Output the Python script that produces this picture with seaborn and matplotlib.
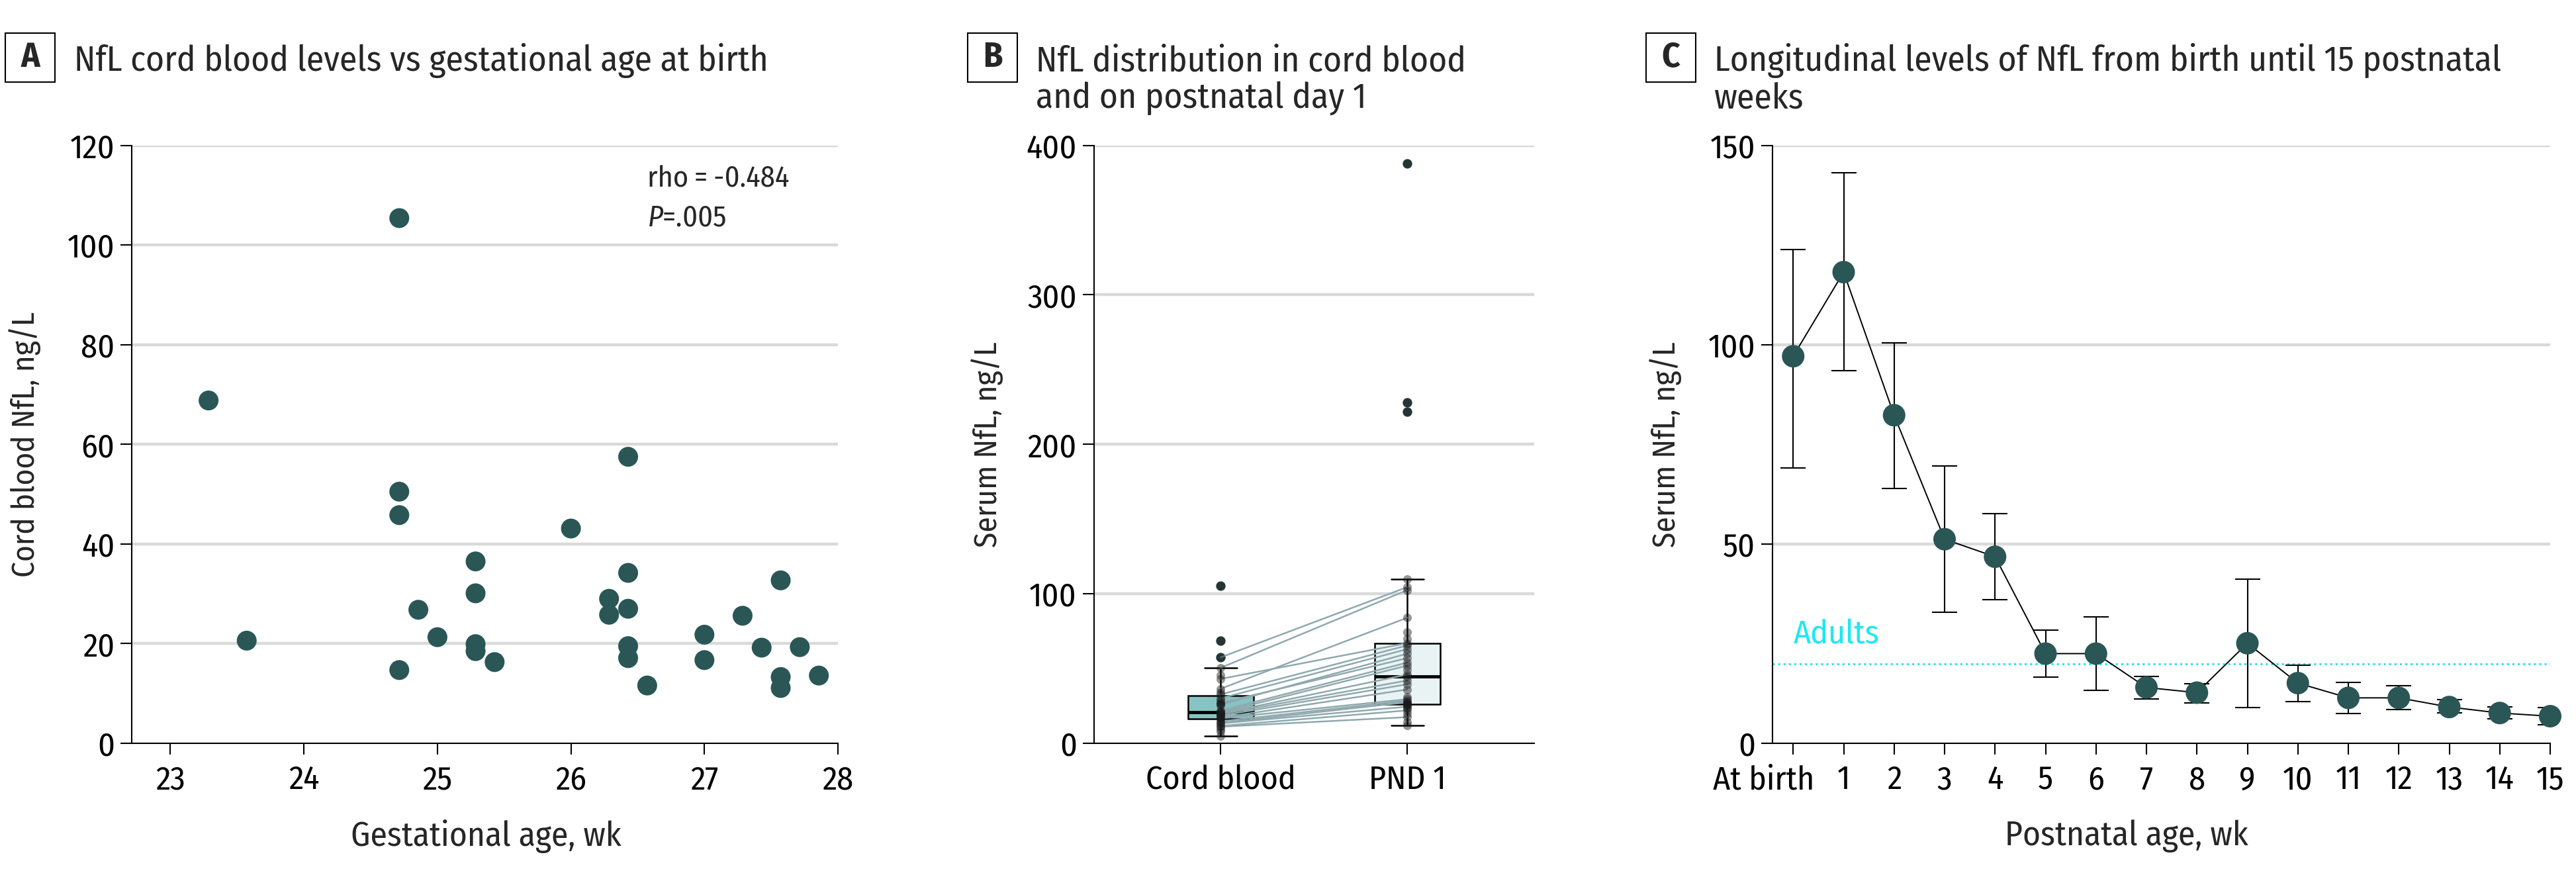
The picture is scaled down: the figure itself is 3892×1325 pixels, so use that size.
import matplotlib
matplotlib.use("Agg")
import matplotlib.pyplot as plt
from matplotlib.patches import Rectangle
from matplotlib.transforms import ScaledTranslation
import pandas as pd
import seaborn as sns

# A: cord blood NfL vs gestational age (weeks + days/7)
ga_weeks = [23 + 2/7, 24 + 5/7, 26 + 3/7, 23 + 4/7, 24 + 5/7, 24 + 5/7, 24 + 5/7,
            24 + 6/7, 25.0, 25 + 2/7, 25 + 2/7, 25 + 2/7, 25 + 2/7, 25 + 3/7,
            26.0, 26 + 2/7, 26 + 2/7, 26 + 3/7, 26 + 3/7, 26 + 3/7, 26 + 3/7,
            26 + 4/7, 27.0, 27.0, 27 + 2/7, 27 + 3/7, 27 + 4/7, 27 + 4/7, 27 + 4/7,
            27 + 5/7, 27 + 6/7]
cord_nfl = [68.8, 105.4, 57.5, 20.6, 50.5, 45.8, 14.7,
            26.8, 21.3, 36.5, 30.1, 19.9, 18.5, 16.3,
            43.1, 29.0, 25.8, 34.2, 27.0, 19.5, 17.1,
            11.6, 21.8, 16.7, 25.6, 19.2, 32.7, 13.3, 11.1,
            19.3, 13.6]
rho_text = "rho\u2009=\u2009-0.484"
p_text = "$P$=.005"

# B: cord blood vs postnatal day 1
cord_extra = [9.5, 8.0, 4.7]
pnd1_nfl = [11.8, 14, 17.5, 20, 22, 23.5, 24.5, 25.5, 26, 26.3,
            27, 27.5, 28.5, 29.5, 31, 36, 39.5, 42, 44.7,
            46, 49, 52, 54, 57, 60, 63, 65.5, 67,
            70, 74.5, 84, 102.5, 104.5, 109.7, 222, 228, 388]
pair_cord = [57.5, 50.5, 36.5, 43.1, 32.7, 30.1, 27.0, 25.8, 21.8, 20.6,
             19.9, 19.5, 18.5, 17.1, 16.7, 14.7, 13.6, 13.3, 11.6, 11.1]
pair_pnd1 = [104.5, 102.5, 84, 67, 65.5, 63, 57, 60, 54, 52,
             46, 42, 39.5, 36, 29.5, 28.5, 27.5, 24.5, 22, 17.5]
groups_b = ["Cord blood", "PND 1"]

# C: longitudinal levels
week_pos = [0, 1, 2, 3, 4, 5, 6, 7, 8, 9, 10, 11, 12, 13, 14, 15]
week_labels = ["At birth", "1", "2", "3", "4", "5", "6", "7", "8", "9",
               "10", "11", "12", "13", "14", "15"]
nfl_mean = [97.1, 118.2, 82.3, 51.2, 46.8, 22.5, 22.5, 14.0, 12.7, 25.1,
            15.1, 11.4, 11.4, 9.1, 7.6, 6.8]
nfl_low = [69.0, 93.4, 64.0, 32.9, 36.0, 16.6, 13.3, 11.1, 10.1, 9.0,
           10.4, 7.4, 8.4, 7.6, 6.1, 4.7]
nfl_high = [123.8, 143.1, 100.4, 69.5, 57.6, 28.4, 31.7, 16.8, 15.0, 41.1,
            19.6, 15.3, 14.5, 10.9, 9.1, 9.0]
adult_level = 20

W, H, DPI = 3892, 1325, 100
TEAL = "#2a5656"
GRID = "#d9d9d9"
CYAN = "#1ee8f2"
FONT = "Fira Sans Condensed"
FS = 36
YLAB = 34

sns.set_theme(style="ticks")
plt.rcParams['font.family'] = [FONT, 'DejaVu Sans']
plt.rcParams['mathtext.fontset'] = 'custom'
plt.rcParams['mathtext.it'] = FONT + ':italic'
plt.rcParams['mathtext.rm'] = FONT

fig = plt.figure(figsize=(W / DPI, H / DPI), dpi=DPI)
fig.patch.set_facecolor("white")


def px_axes(l, t, r, b):
    return fig.add_axes([l / W, 1 - b / H, (r - l) / W, (b - t) / H])


def style(ax, yticks):
    for s in ["top", "right"]:
        ax.spines[s].set_visible(False)
    for s in ["left", "bottom"]:
        ax.spines[s].set_linewidth(1.5)
        ax.spines[s].set_color("black")
    ax.tick_params(axis="both", direction="out", length=12, width=1.5,
                   color="black", labelsize=FS, labelcolor="black")
    ax.tick_params(axis="y", pad=6.5)
    ax.tick_params(axis="x", pad=11)
    ax.set_ylim(yticks[0], yticks[-1])
    ax.set_yticks(yticks)
    for v in yticks[1:]:
        ax.axhline(v, color=GRID, lw=3.2, zorder=0)
    ax.set_facecolor("white")


def panel_title(letter, lines, x_box, x_text):
    fig.patches.append(Rectangle((x_box / W, 1 - 124 / H), 75 / W, 74 / H,
                                 transform=fig.transFigure, fill=False,
                                 ec="black", lw=1.5))
    fig.text((x_box + 37.5) / W, 1 - 87 / H, letter, ha="center", va="center",
             fontsize=38, fontweight="bold")
    for i, line in enumerate(lines):
        fig.text(x_text / W, 1 - (107 + 56 * i) / H, line, ha="left",
                 va="baseline", fontsize=38.5)


# ---- Panel A ----
axA = px_axes(199, 219.6, 1266, 1123)
style(axA, [0, 20, 40, 60, 80, 100, 120])
sns.scatterplot(x=ga_weeks, y=cord_nfl, ax=axA, s=467, color=TEAL,
                edgecolor="none", zorder=3)
axA.set_xlim(22.71, 28)
axA.set_xticks([23, 24, 25, 26, 27, 28])
axA.text(26.57, 111.7, rho_text, fontsize=32, ha="left", va="baseline")
axA.text(26.57, 103.8, p_text, fontsize=32, ha="left", va="baseline")
axA.set_xlabel("Gestational age, wk", fontsize=37)
axA.set_ylabel("Cord blood NfL, ng/L", fontsize=YLAB)
axA.xaxis.set_label_coords(0.5014, -0.1273)
axA.yaxis.set_label_coords(-137 / 1067, 0.5)
panel_title("A", ["NfL cord blood levels vs gestational age at birth"], 8, 112)

# ---- Panel B ----
axB = px_axes(1652.6, 219.6, 2318, 1123)
style(axB, [0, 100, 200, 300, 400])
df_b = pd.DataFrame({
    "group": [groups_b[0]] * (len(cord_nfl) + len(cord_extra)) + [groups_b[1]] * len(pnd1_nfl),
    "value": cord_nfl + cord_extra + pnd1_nfl,
})
sns.boxplot(data=df_b, x="group", y="value", hue="group", order=groups_b,
            hue_order=groups_b, palette=["#86c4c3", "#e9f3f4"], saturation=1,
            width=0.35, linewidth=1.8, linecolor="black", fliersize=9.4,
            flierprops=dict(marker="o", markerfacecolor="#2f4b4b",
                            markeredgecolor="#2f4b4b"),
            medianprops=dict(linewidth=3.5), legend=False, ax=axB, zorder=2)
for c, p in zip(pair_cord, pair_pnd1):
    axB.plot([0, 1], [c, p], color="#8fa9ae", lw=1.8, zorder=3)
sns.stripplot(data=df_b, x="group", y="value", order=groups_b, jitter=False,
              color="#1a1a1a", alpha=0.45, size=9.4, ax=axB, zorder=4)
axB.set_xlim(-0.68, 1.68)
axB.set_ylim(0, 400)
axB.set_xlabel("")
axB.set_ylabel("Serum NfL, ng/L", fontsize=YLAB)
axB.yaxis.set_label_coords(-137 / 665.4, 0.5)
panel_title("B", ["NfL distribution in cord blood", "and on postnatal day 1"], 1462, 1565)

# ---- Panel C ----
axC = px_axes(2678, 219.6, 3853, 1123)
style(axC, [0, 50, 100, 150])
axC.axhline(adult_level, color=CYAN, ls=":", lw=2.2, zorder=1)
axC.text(0, 25, "Adults", color=CYAN, fontsize=FS, ha="left", va="baseline")
yerr = [[m - lo for m, lo in zip(nfl_mean, nfl_low)],
        [hi - m for m, hi in zip(nfl_mean, nfl_high)]]
axC.errorbar(week_pos, nfl_mean, yerr=yerr, fmt="none", ecolor="black",
             elinewidth=1.5, capsize=13.7, capthick=1.5, zorder=2)
sns.lineplot(x=week_pos, y=nfl_mean, color="black", lw=1.4, ax=axC, zorder=3)
sns.scatterplot(x=week_pos, y=nfl_mean, s=600, color=TEAL, edgecolor="none",
                ax=axC, zorder=4, clip_on=False)
axC.set_xlim(-0.41, 15)
axC.set_xticks(week_pos)
axC.set_xticklabels(week_labels)
# first label sits a little left of its tick in the original
first = axC.get_xticklabels()[0]
first.set_transform(first.get_transform() + ScaledTranslation(-0.45, 0, fig.dpi_scale_trans))
axC.set_ylim(0, 150)
axC.set_xlabel("Postnatal age, wk", fontsize=37)
axC.set_ylabel("Serum NfL, ng/L", fontsize=YLAB)
axC.xaxis.set_label_coords(0.455, -0.1273)
axC.yaxis.set_label_coords(-137 / 1175, 0.5)
panel_title("C", ["Longitudinal levels of NfL from birth until 15 postnatal", "weeks"], 2487, 2590)

fig.savefig("out.png", dpi=DPI, facecolor="white")
